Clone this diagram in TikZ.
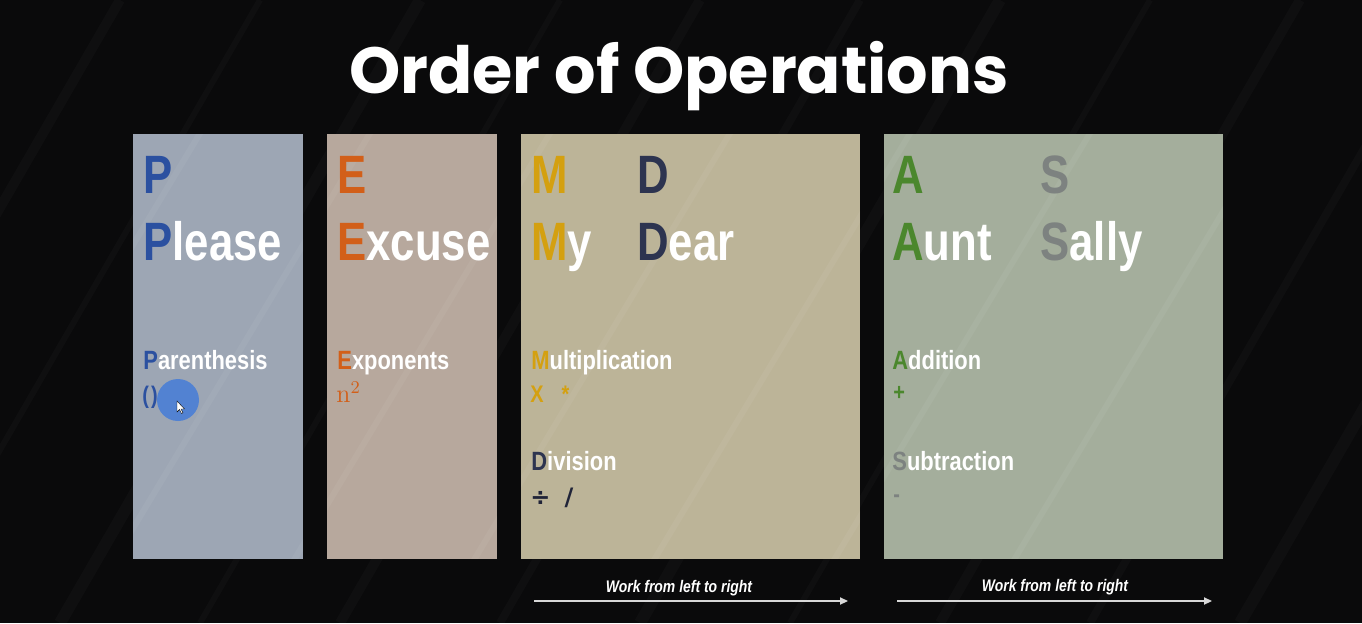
\documentclass[tikz,border=0pt]{standalone}
\usepackage{fontspec}
\usetikzlibrary{arrows.meta}
\newfontfamily\cond{Liberation Sans}[FakeStretch=0.83]
\newfontfamily\condbig{Liberation Sans}[FakeStretch=0.81]
\newfontfamily\titlefont{Poppins}
\definecolor{bgdark}{HTML}{0A0A0B}
\definecolor{panelP}{HTML}{9DA6B4}
\definecolor{panelE}{HTML}{B7A89D}
\definecolor{panelM}{HTML}{BCB498}
\definecolor{panelA}{HTML}{A4AE9C}
\definecolor{pblue}{HTML}{2B50A0}
\definecolor{eorange}{HTML}{D25F19}
\definecolor{mgold}{HTML}{D4A010}
\definecolor{dnavy}{HTML}{2D3450}
\definecolor{agreen}{HTML}{4B872D}
\definecolor{sgray}{HTML}{7D8280}
\definecolor{arrowgray}{HTML}{D8D8D8}
\definecolor{cursorblue}{HTML}{4A7FD6}
\tikzset{
  panel/.style={fill=#1, draw=none},
  bigword/.style={font=\condbig\bfseries\fontsize{27}{27}\selectfont, text=white,
    anchor=base west, inner sep=0pt},
  smallword/.style={font=\cond\bfseries\fontsize{13.2}{13.2}\selectfont, text=white,
    anchor=base west, inner sep=0pt},
  symbol/.style={font=\cond\bfseries\fontsize{12}{12}\selectfont,
    anchor=base west, inner sep=0pt},
  note/.style={font=\cond\bfseries\itshape\fontsize{8.4}{8.4}\selectfont, text=white,
    anchor=base, inner sep=0pt},
  flow/.style={draw=arrowgray, line width=0.6pt,
    -{Triangle[length=4pt,width=3.6pt,fill=arrowgray]}},
  streak/.style={line width=#1, white, opacity=0.022},
}
\begin{document}
\begin{tikzpicture}[x=0.5pt, y=-0.5pt]
  % canvas
  \useasboundingbox (0,0) rectangle (1362,623);
  \fill[bgdark] (0,0) rectangle (1362,623);

  % faint diagonal streaks across the dark background
  \begin{scope}
    \clip (0,0) rectangle (1362,623);
    \foreach \x/\w in {120/5pt, 260/3pt, 420/6pt, 560/3pt, 700/5pt, 860/4pt,
                       1000/6pt, 1150/3pt, 1300/5pt, 1450/4pt, 1600/6pt} {
      \draw[streak=\w] (\x-360,623) -- (\x,0);
    }
  \end{scope}

  % the four panels
  \fill[panel=panelP] (133,134) rectangle (303,559);
  \fill[panel=panelE] (327,134) rectangle (497,559);
  \fill[panel=panelM] (521,134) rectangle (860,559);
  \fill[panel=panelA] (884,134) rectangle (1223,559);

  % light sheen over the panels
  \begin{scope}
    \clip (133,134) rectangle (303,559) (327,134) rectangle (497,559)
          (521,134) rectangle (860,559) (884,134) rectangle (1223,559);
    \foreach \x in {250, 420, 600, 780, 960, 1140, 1320} {
      \draw[line width=3pt, white, opacity=0.05] (\x-330,600) -- (\x,50);
    }
  \end{scope}

  % title
  \node[font=\titlefont\bfseries\fontsize{32.6}{32.6}\selectfont, text=white,
        anchor=base, inner sep=0pt] (title) at (679,93) {Order of Operations};

  % P column
  \node[bigword, text=pblue] (pLetter) at (143,193) {P};
  \node[bigword] (pWord) at (143,260) {{\color{pblue}P}lease};
  \node[smallword] (pName) at (143,369) {{\color{pblue}P}arenthesis};
  \fill[cursorblue, opacity=0.9] (178,400) circle (21);
  \node[symbol, text=pblue] (pSym) at (142,403) {(\hspace{1pt})};
  \draw[fill=white, draw=black, line width=0.2pt] (177,401) -- (177,412) -- (179.5,409.5)
      -- (181.5,413.5) -- (183,412.8) -- (181,409) -- (184.5,409) -- cycle;

  % E column
  \node[bigword, text=eorange] (eLetter) at (337,193) {E};
  \node[bigword] (eWord) at (337,260) {{\color{eorange}E}xcuse};
  \node[smallword] (eName) at (337,369) {{\color{eorange}E}xponents};
  \node[anchor=base west, inner sep=0pt, text=eorange,
        font=\fontsize{13}{13}\selectfont] (eSym) at (336,402) {$\mathrm{n}^{2}$};

  % M and D column
  \node[bigword, text=mgold] (mLetter) at (531,193) {M};
  \node[bigword, text=dnavy] (dLetter) at (637,193) {D};
  \node[bigword] (mWord) at (531,260) {{\color{mgold}M}y};
  \node[bigword] (dWord) at (637,260) {{\color{dnavy}D}ear};
  \node[smallword] (mName) at (531,369) {{\color{mgold}M}ultiplication};
  \node[symbol, text=mgold] (mSym) at (530,402) {X\hspace{9pt}*};
  \node[smallword] (dName) at (531,470) {{\color{dnavy}D}ivision};
  \node[symbol, text=dnavy!70!black] (dSym) at (530,505)
        {\fontspec{DejaVu Sans}÷\hspace{7pt}/};

  % A and S column
  \node[bigword, text=agreen] (aLetter) at (892,193) {A};
  \node[bigword, text=sgray] (sLetter) at (1040,193) {S};
  \node[bigword] (aWord) at (892,260) {{\color{agreen}A}unt};
  \node[bigword] (sWord) at (1040,260) {{\color{sgray}S}ally};
  \node[smallword] (aName) at (892,369) {{\color{agreen}A}ddition};
  \node[symbol, text=agreen] (aSym) at (893,400) {+};
  \node[smallword] (sName) at (892,470) {{\color{sgray}S}ubtraction};
  \node[symbol, text=sgray] (sSym) at (893,502) {-};

  % left-to-right reading arrows
  \node[note] (noteMD) at (679,592) {Work from left to right};
  \coordinate (mdStart) at (534,601);
  \coordinate (mdEnd) at (848,601);
  \draw[flow] (mdStart) -- (mdEnd);

  \node[note] (noteAS) at (1055,591) {Work from left to right};
  \coordinate (asStart) at (897,601);
  \coordinate (asEnd) at (1212,601);
  \draw[flow] (asStart) -- (asEnd);
\end{tikzpicture}
\end{document}
